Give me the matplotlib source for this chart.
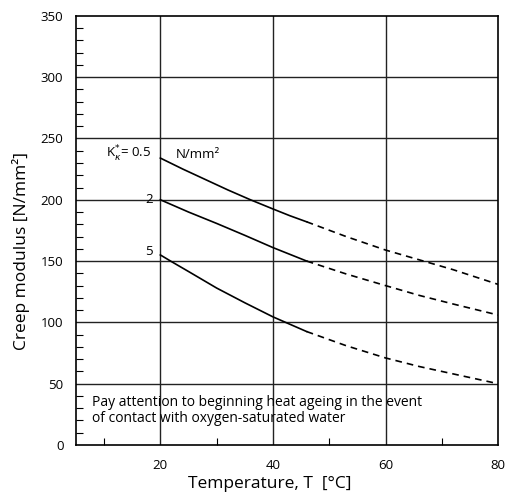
import matplotlib.pyplot as plt
from matplotlib.ticker import MultipleLocator, FixedLocator

plt.rcParams['font.family'] = ['Open Sans', 'DejaVu Sans']

# creep modulus curves per stress level (solid = measured, dashed = extrapolated)
stress_labels = ["0.5", "2", "5"]

t_solid_05 = [20, 24, 28, 32, 36, 40, 43, 46]
e_solid_05 = [234, 225, 216.5, 208, 200, 192.5, 187, 182]
t_dash_05 = [46, 53, 60, 66, 72, 80]
e_dash_05 = [182, 170, 159, 151, 143, 131]

t_solid_2 = [20, 25, 30, 35, 40, 43, 46]
e_solid_2 = [200, 190, 180.7, 171, 161, 155.5, 150]
t_dash_2 = [46, 53, 60, 66, 72, 80]
e_dash_2 = [150, 139.5, 130, 122, 115, 106]

t_solid_5 = [20, 22, 25, 30, 35, 40, 43, 46]
e_solid_5 = [155, 149.5, 141.5, 128, 116, 104.5, 98.5, 92.5]
t_dash_5 = [46, 53, 60, 66, 72, 80]
e_dash_5 = [92.5, 81, 71, 64, 58, 50]

fig = plt.figure(figsize=(5.13, 4.95), dpi=100)
ax = fig.add_axes([0.148, 0.101, 0.823, 0.867])

ax.set_xlim(5, 80)
ax.set_ylim(0, 350)

for ts, es, td, ed in [(t_solid_05, e_solid_05, t_dash_05, e_dash_05),
                       (t_solid_2, e_solid_2, t_dash_2, e_dash_2),
                       (t_solid_5, e_solid_5, t_dash_5, e_dash_5)]:
    ax.plot(ts, es, color='black', lw=1.2, solid_joinstyle='round')
    ax.plot(td, ed, color='black', lw=1.2, ls=(0, (4, 3)))

# grid
for t in [20, 40, 60]:
    ax.axvline(t, color='#222222', lw=1.0, zorder=0)
for e in [50, 100, 150, 200, 250, 300]:
    ax.axhline(e, color='#222222', lw=1.0, zorder=0)

ax.xaxis.set_major_locator(FixedLocator([20, 40, 60, 80]))
ax.xaxis.set_minor_locator(FixedLocator([10, 30, 50, 70]))
ax.yaxis.set_major_locator(MultipleLocator(50))
ax.yaxis.set_minor_locator(MultipleLocator(10))
ax.tick_params(which='major', length=0, labelsize=9.5)
ax.tick_params(axis='y', which='major', pad=9)
ax.tick_params(axis='x', which='major', pad=10)
ax.tick_params(which='minor', direction='in', length=5, width=0.8)
for s in ax.spines.values():
    s.set_linewidth(1.2)

ax.set_xlabel("Temperature, T  [°C]", fontsize=12.5)
ax.xaxis.set_label_coords(0.46, -0.072)
ax.set_ylabel("Creep modulus [N/mm²]", fontsize=12.5)
ax.yaxis.set_label_coords(-0.109, 0.452)

# curve labels
ax.text(18.4, e_solid_05[0] + 3, r"K$^{*}_{\kappa}$= 0.5", ha='right', va='center', fontsize=9.5)
ax.text(22.8, e_solid_05[0] + 3, "N/mm²", ha='left', va='center', fontsize=9.5)
ax.text(18.6, e_solid_2[0], stress_labels[1], ha='right', va='center', fontsize=9.5)
ax.text(18.6, e_solid_5[0] + 3, stress_labels[2], ha='right', va='center', fontsize=9.5)

ax.text(7.8, 28, "Pay attention to beginning heat ageing in the event\n"
        "of contact with oxygen-saturated water",
        ha='left', va='center', fontsize=10, linespacing=1.1)

fig.savefig("out.png", dpi=100)
